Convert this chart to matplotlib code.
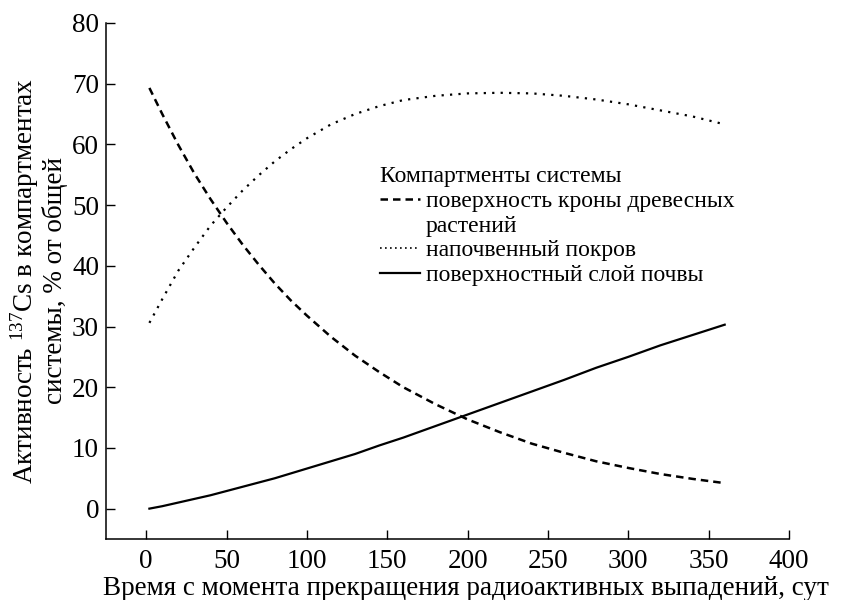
import matplotlib
matplotlib.use("Agg")
import matplotlib.pyplot as plt
from matplotlib.lines import Line2D

plt.rcParams.update({
    "font.family":        ["Liberation Serif", "DejaVu Serif"],
    "mathtext.fontset":   "custom",
    "mathtext.rm":        "Liberation Serif",
    "mathtext.it":        "Liberation Serif:italic",
    "font.size":          19.5,
    "axes.spines.top":    False,
    "axes.spines.right":  False,
    "axes.linewidth":     1.1,
})

# Days since the end of fallout
days = [2, 10, 20, 30, 40, 50, 60, 70, 80, 90, 100, 115, 130, 145, 160,
        180, 200, 220, 240, 260, 280, 300, 320, 340, 360]
# Share of 137Cs activity in each compartment, %
crown = [69.3, 65.0, 59.9, 55.2, 51.0, 47.1, 43.5, 40.2, 37.1, 34.3, 31.8,
         28.3, 25.2, 22.5, 20.0, 17.2, 14.7, 12.6, 10.7, 9.2, 7.8, 6.7,
         5.7, 4.9, 4.2]
ground_cover = [30.6, 34.5, 39.2, 43.0, 46.6, 49.6, 52.4, 54.9, 57.2, 59.2,
                61.0, 63.3, 65.0, 66.3, 67.3, 68.0, 68.4, 68.5, 68.4, 68.0,
                67.4, 66.6, 65.6, 64.6, 63.3]
soil = [0.0, 0.4, 1.0, 1.6, 2.2, 2.9, 3.6, 4.3, 5.0, 5.8, 6.6, 7.8, 9.0,
        10.4, 11.7, 13.6, 15.5, 17.4, 19.3, 21.2, 23.2, 25.0, 26.9, 28.6, 30.3]

LEGEND_TITLE = "Компартменты системы"
LABELS = ["поверхность кроны древесных", "растений",
          "напочвенный покров", "поверхностный слой почвы"]

fig = plt.figure(figsize=(8.44, 6.0), dpi=100)
ax = fig.add_axes([0.1256, 0.1017, 0.8092, 0.86])

ax.plot(days, crown, color="black", lw=1.8, linestyle=(0, (3, 2)))
ax.plot(days, ground_cover, color="black", lw=1.6, linestyle=(0, (1, 2.8)))
ax.plot(days, soil, color="black", lw=1.6, linestyle="-")

ax.set_xlim(-25, 400)
ax.set_ylim(-5, 80)
ax.set_xticks(range(0, 401, 50))
ax.set_yticks(range(0, 81, 10))
ax.tick_params(axis="both", direction="in", length=6.5, width=1.0, colors="black")
ax.tick_params(axis="x", pad=7.5)
ax.tick_params(axis="y", pad=5)

ax.set_xlabel("Время с момента прекращения радиоактивных выпадений, сут")
ax.xaxis.set_label_coords(0.527, -0.071)
ax.set_ylabel("Активность $^{137}$Cs в компартментах\nсистемы, % от общей",
              labelpad=3, linespacing=1.06)

# legend: second label line is a separate entry so the handle stays on line one
handles = [
    Line2D([0], [0], color="black", lw=1.8, linestyle=(0, (3, 2))),
    Line2D([0], [0], color="none"),
    Line2D([0], [0], color="black", lw=1.2, linestyle=(0, (1, 2))),
    Line2D([0], [0], color="black", lw=1.6),
]
leg = ax.legend(handles, LABELS, title=LEGEND_TITLE, loc="upper left",
                bbox_to_anchor=(0.401, 0.722), frameon=False, fontsize=17,
                title_fontsize=17, alignment="left", borderpad=0,
                borderaxespad=0, handlelength=1.7, handletextpad=0.25,
                labelspacing=0.13)

fig.savefig("out.png", dpi=100)
